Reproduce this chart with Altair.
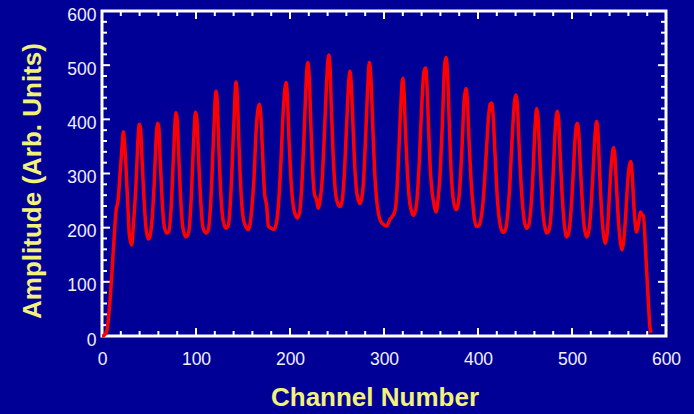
import altair as alt
import pandas as pd

# Channel number / amplitude
channel = [0, 2, 5, 8.5, 12, 14.9, 17.4, 18.4, 21, 22.7, 24, 25.5, 28, 29.1, 31.6, 33.3, 36.2, 38.7, 39.7, 41,
           42.5, 44.5, 46.5, 49.3, 51, 53, 55.5, 57.5, 59.2, 60.5, 62, 64, 66, 68.8, 71, 73.5, 76, 78.7, 80, 81.5,
           83.5, 86, 89.4, 92, 94.5, 97, 99.6, 101, 103, 105, 107.5, 110.6, 113, 115.5, 118.5, 121.3, 122.7, 124.5, 126.5, 129,
           131.9, 134.5, 137, 140, 142.6, 144, 146, 148, 150.5, 153, 155.7, 158, 159.5, 161.5, 164, 167.4, 169, 171, 173, 175.2,
           177, 180, 183, 186, 187.6, 190, 193, 195.7, 197, 199, 201, 203.5, 205.5, 207.8, 210, 212, 214.5, 217, 218.8, 220.5,
           222, 224, 226, 228.4, 230.1, 232, 234, 236.5, 239, 241.1, 242.5, 244, 246, 248, 250.5, 253.2, 255.5, 257.5, 260, 262.5,
           263.8, 265, 267, 269, 271, 272.5, 274.5, 276.5, 278, 280.5, 283, 284.4, 286, 288, 290, 292.2, 294, 296.5, 300, 303,
           305, 306.2, 308.5, 311.5, 313.5, 315.5, 318, 319.9, 321, 323, 325, 327, 329, 331.2, 333, 335, 337.5, 340, 342.5, 344.3,
           345.5, 347.5, 349.5, 351.5, 353, 355.3, 357.8, 360, 362.5, 364.5, 366, 367.5, 369.5, 371.5, 373.5, 376.6, 378.5, 380.5, 383, 385.5,
           387.2, 388.5, 390.5, 392.5, 394.5, 396, 398.6, 401, 403, 405.5, 408.5, 411.5, 413, 414.5, 416, 418, 420, 422, 424, 426.9,
           429, 431, 433.5, 436.5, 439, 440.4, 441.8, 443.5, 445.5, 447.5, 449.5, 451.8, 454, 456, 458.5, 460.5, 462.4, 463.8, 465.5, 467.5,
           469.5, 471.5, 473.1, 475.5, 477.5, 480, 482.5, 484.4, 485.8, 487.5, 489.5, 491.5, 494.3, 496.5, 498.5, 501, 503.5, 505.7, 507, 509,
           511, 513, 515.6, 517.5, 519.5, 522, 524.5, 526.2, 527.5, 529.5, 531.5, 533.5, 535.4, 537.5, 539.5, 542, 544.3, 545.5, 547.5, 549.5,
           551.5, 553.2, 555, 557, 559.5, 562.4, 563.8, 565.5, 567, 568.8, 570.5, 573, 574.5, 575.9, 578.5, 581, 583, 584]
amplitude = [0, 1, 9, 64, 157, 230, 255, 280, 342, 377, 355, 313, 221, 187, 168, 202, 282, 374, 391, 383,
             330, 260, 205, 179, 184, 210, 280, 360, 393, 385, 320, 250, 205, 190, 192, 235, 330, 412, 400, 340,
             260, 200, 183, 190, 240, 340, 413, 400, 320, 250, 200, 190, 195, 240, 360, 452, 430, 340, 260, 212,
             199, 205, 260, 380, 469, 440, 340, 262, 215, 202, 196, 212, 238, 285, 380, 428, 405, 330, 262, 240,
             203, 199, 197, 213, 240, 310, 420, 468, 450, 360, 290, 240, 225, 218, 226, 262, 350, 460, 505, 480,
             400, 310, 262, 251, 236, 251, 282, 370, 470, 519, 500, 420, 330, 272, 246, 239, 250, 290, 380, 470,
             489, 470, 390, 310, 265, 252, 244, 256, 280, 370, 470, 505, 480, 390, 305, 251, 227, 212, 205, 203,
             210, 215, 220, 230, 260, 330, 430, 476, 460, 370, 300, 252, 232, 223, 228, 250, 320, 420, 488, 495,
             472, 380, 300, 262, 245, 229, 257, 310, 410, 500, 514, 490, 390, 300, 255, 233, 240, 270, 350, 440,
             457, 440, 360, 290, 245, 218, 202, 203, 215, 250, 330, 410, 428, 430, 410, 340, 270, 225, 202, 191,
             195, 215, 270, 370, 435, 445, 430, 360, 290, 240, 210, 199, 205, 230, 300, 380, 420, 405, 340, 270,
             220, 198, 190, 195, 220, 300, 390, 415, 400, 330, 260, 212, 183, 190, 220, 290, 370, 393, 380, 310,
             245, 202, 183, 190, 220, 290, 370, 396, 380, 300, 230, 187, 171, 190, 250, 320, 348, 335, 270, 210,
             172, 159, 175, 220, 290, 322, 305, 250, 212, 192, 205, 229, 224, 222, 150, 70, 15, 6]

x_major = [0, 100, 200, 300, 400, 500, 600]
x_minor = [20, 40, 60, 80, 120, 140, 160, 180, 220, 240, 260, 280, 320, 340, 360, 380,
           420, 440, 460, 480, 520, 540, 560, 580]
y_major = [0, 100, 200, 300, 400, 500, 600]
y_minor = [20, 40, 60, 80, 120, 140, 160, 180, 220, 240, 260, 280, 320, 340, 360, 380,
           420, 440, 460, 480, 520, 540, 560, 580]

W, H = 564, 325
BG = "#000096"
YEL = "#f2f27a"
LBL = "#f0f0ff"
FONT = "Liberation Sans"

df = pd.DataFrame({"channel": channel, "amplitude": amplitude})
xs = alt.Scale(domain=[0, 600], nice=False, zero=False)
ys = alt.Scale(domain=[0, 600], nice=False, zero=False)

x_axis = alt.Axis(values=x_major, title="Channel Number", grid=False, domain=False, ticks=False,
                  tickSize=0, labelPadding=28, labelBaseline="alphabetic", labelFontSize=17.5,
                  labelFlush=False, labelColor=LBL, labelFont=FONT, titleFont=FONT, titleFontSize=26,
                  titleFontWeight="bold", titleColor=YEL, titleX=272.5, titleY=69,
                  titleBaseline="alphabetic", titleAlign="center")
y_axis = alt.Axis(values=y_major, title="Amplitude (Arb. Units)", grid=False, domain=False, ticks=False,
                  tickSize=0, labelPadding=6, labelBaseline="middle", labelOffset=4, labelFontSize=17.5,
                  labelFlush=False, labelColor=LBL, labelFont=FONT, titleFont=FONT, titleFontSize=26,
                  titleFontWeight="bold", titleColor=YEL, titleAngle=270, titleX=-62, titleY=169.5,
                  titleBaseline="alphabetic", titleAlign="center")

xmaj = pd.DataFrame({"channel": x_major})
xmin = pd.DataFrame({"channel": x_minor})
ymaj = pd.DataFrame({"amplitude": y_major})
ymin = pd.DataFrame({"amplitude": y_minor})

def xticks(d, length):
    base = alt.Chart(d).mark_rule(color="white", strokeWidth=2)
    bottom = base.encode(x=alt.X("channel:Q", scale=xs, axis=x_axis), y=alt.value(H), y2=alt.value(H - length))
    top = base.encode(x=alt.X("channel:Q", scale=xs, axis=x_axis), y=alt.value(0), y2=alt.value(length))
    return [bottom, top]

def yticks(d, length):
    base = alt.Chart(d).mark_rule(color="white", strokeWidth=2)
    left = base.encode(y=alt.Y("amplitude:Q", scale=ys, axis=y_axis), x=alt.value(0), x2=alt.value(length))
    right = base.encode(y=alt.Y("amplitude:Q", scale=ys, axis=y_axis), x=alt.value(W), x2=alt.value(W - length))
    return [left, right]

line = alt.Chart(df).mark_line(color="#ff0000", strokeWidth=3.5, interpolate="monotone").encode(
    x=alt.X("channel:Q", scale=xs, axis=x_axis),
    y=alt.Y("amplitude:Q", scale=ys, axis=y_axis),
)

layers = xticks(xmaj, 8) + xticks(xmin, 5) + yticks(ymaj, 8) + yticks(ymin, 5) + [line]

chart = alt.layer(*layers).properties(
    width=W, height=H,
    autosize=alt.AutoSizeParams(type="none"),
    padding={"left": 102, "top": 11, "right": 28, "bottom": 78},
    background=BG,
).configure_view(stroke="white", strokeWidth=3, fill=BG)

chart.save("out.html", embed_options={"renderer": "svg", "actions": False})
